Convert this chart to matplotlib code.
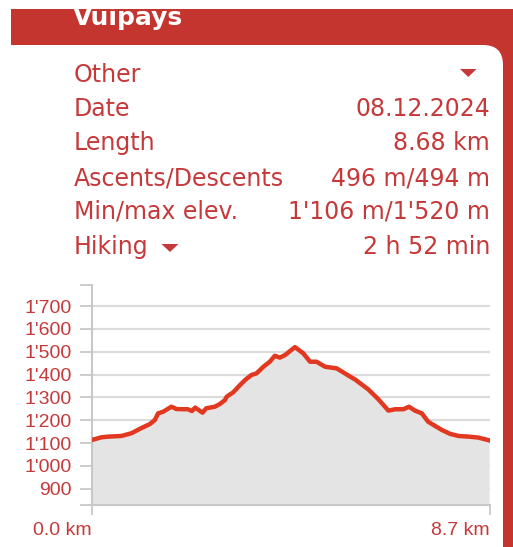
import matplotlib
matplotlib.use("Agg")
import matplotlib.pyplot as plt
from matplotlib.patches import Rectangle, FancyBboxPatch, Polygon
from matplotlib.transforms import IdentityTransform
from matplotlib.ticker import FuncFormatter

# ---- data ----
title = "Vuipays"
info_labels = ["Other", "Date", "Length", "Ascents/Descents", "Min/max elev.", "Hiking"]
info_values = ["", "08.12.2024", "8.68 km", "496 m/494 m", "1'106 m/1'520 m", "2 h 52 min"]

distance_km = [0.0, 0.21, 0.36, 0.65, 0.87, 1.08, 1.27, 1.38, 1.45, 1.56, 1.74, 1.85,
               1.96, 2.10, 2.19, 2.26, 2.42, 2.50, 2.69, 2.80, 2.91, 2.95, 3.09, 3.24,
               3.35, 3.49, 3.60, 3.75, 3.89, 4.00, 4.11, 4.22, 4.44, 4.62, 4.77, 4.91,
               5.10, 5.35, 5.53, 5.71, 5.75, 5.86, 6.04, 6.26, 6.48, 6.63, 6.81, 6.93,
               7.06, 7.21, 7.35, 7.50, 7.65, 7.83, 8.01, 8.23, 8.44, 8.66, 8.68]
elevation_m = [1113, 1125, 1128, 1131, 1143, 1165, 1183, 1201, 1230, 1237, 1259, 1249,
               1248, 1248, 1240, 1255, 1233, 1252, 1259, 1271, 1288, 1303, 1322, 1354,
               1376, 1398, 1405, 1434, 1456, 1482, 1474, 1485, 1520, 1493, 1456, 1456,
               1434, 1427, 1405, 1383, 1379, 1362, 1335, 1292, 1242, 1248, 1248, 1259,
               1242, 1230, 1193, 1175, 1157, 1140, 1131, 1128, 1124, 1113, 1112]

y_ticks = [900, 1000, 1100, 1200, 1300, 1400, 1500, 1600, 1700]
x_ticks = [0.0, 8.7]
x_tick_labels = ["0.0 km", "8.7 km"]

# ---- styling ----
W, H = 513, 547
RED = "#c4352f"
TXT = "#c6393a"
LINE = "#e2381f"

fig = plt.figure(figsize=(W / 100, H / 100), dpi=100)
fig.patch.set_facecolor("white")

def px(x, y):
    return (x, H - y)

# header band
band = Rectangle(px(11, 45), W - 11, 36, transform=IdentityTransform(),
                 facecolor=RED, edgecolor="none", zorder=0)
fig.patches.append(band)
# right red strip + white card with rounded corner
strip = Rectangle(px(470, 560), 60, 520, transform=IdentityTransform(),
                  facecolor=RED, edgecolor="none", zorder=0)
fig.patches.append(strip)
card = FancyBboxPatch(px(11, 600), 503 - 11, 555,
                      boxstyle="round,pad=0,rounding_size=20",
                      transform=IdentityTransform(),
                      facecolor="white", edgecolor="none", zorder=1)
fig.patches.append(card)

t = fig.text(73 / W, 1 - 25 / H, title, color="white", fontsize=18,
             fontweight="bold", family="DejaVu Sans", va="baseline", ha="left")
t.set_clip_path(band)

# info rows
row_y = [75, 109, 143, 178, 212, 247]
for lab, val, yy in zip(info_labels, info_values, row_y):
    fig.text(74 / W, 1 - yy / H, lab, color=TXT, fontsize=17,
             family="DejaVu Sans", va="center", ha="left")
    if val:
        fig.text(490 / W, 1 - yy / H, val, color=TXT, fontsize=17,
                 family="DejaVu Sans", va="center", ha="right")

def tri(x0, x1, y0, y1):
    p = Polygon([px(x0, y0), px(x1, y0), px((x0 + x1) / 2, y1)], closed=True,
                transform=IdentityTransform(), facecolor=TXT, edgecolor="none", zorder=3)
    fig.patches.append(p)

tri(460, 476.5, 69, 77)
tri(161.5, 178.5, 244, 252)

# chart
ax_l, ax_r, ax_t, ax_b = 91.7, 490, 285, 505
ax = fig.add_axes([ax_l / W, 1 - ax_b / H, (ax_r - ax_l) / W, (ax_b - ax_t) / H])
ax.set_zorder(2)
ax.patch.set_alpha(0)
ax.set_xlim(0, 8.7)
ax.set_ylim(828.6, 1792)

ax.fill_between(distance_km, elevation_m, 828.6, color="#e4e4e4", lw=0, zorder=1)
ax.plot(distance_km, elevation_m, color=LINE, lw=3.2, solid_joinstyle="round", zorder=3)

for v in y_ticks:
    ax.axhline(v, color="#dcdcdc", lw=1.6, zorder=0.5)

ax.set_yticks([828.6] + y_ticks + [1792])
ax.yaxis.set_major_formatter(FuncFormatter(
    lambda v, p: "" if v < 850 or v > 1750 else f"{int(round(v)):,}".replace(",", "'")))
ax.set_xticks(x_ticks)
ax.set_xticklabels(x_tick_labels)
for lbl in ax.get_xticklabels():
    lbl.set_ha("right")

for s in ["top", "right"]:
    ax.spines[s].set_visible(False)
for s in ["left", "bottom"]:
    ax.spines[s].set_color("#c8c8c8")
    ax.spines[s].set_linewidth(1.5)

ax.tick_params(axis="y", length=8.6, width=1.3, color="#c8c8c8", pad=5.5,
               labelsize=14, labelcolor=TXT)
ax.tick_params(axis="x", length=7.5, width=1.3, color="#c8c8c8", pad=4.5,
               labelsize=14, labelcolor=TXT)
for lbl in ax.get_xticklabels() + ax.get_yticklabels():
    lbl.set_family("Liberation Sans")

fig.savefig("out.png", dpi=100)
